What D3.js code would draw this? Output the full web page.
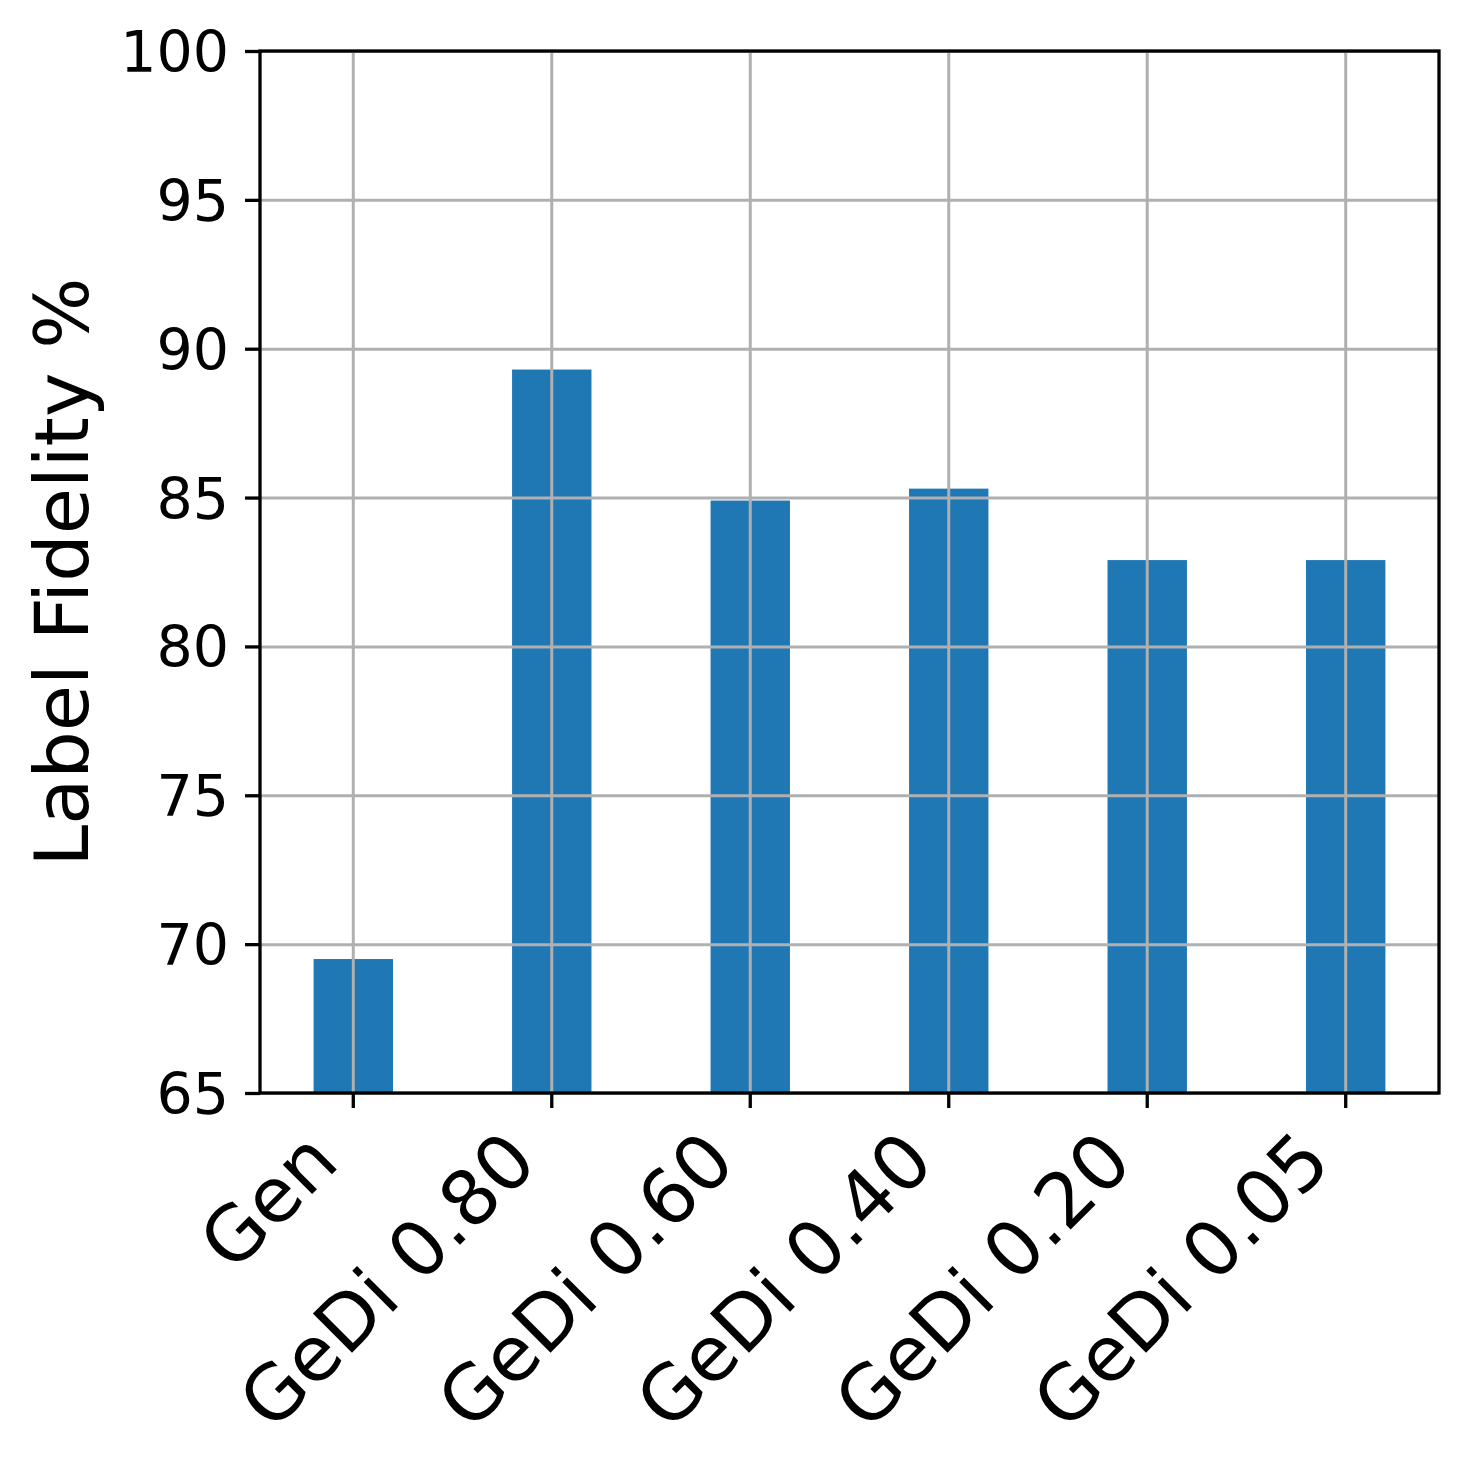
<!DOCTYPE html>
<html>
<head>
<meta charset="utf-8">
<script src="https://cdn.jsdelivr.net/npm/d3@7"></script>
<style>
  body { margin: 0; background: #fff; }
  svg text { font-family: "DejaVu Sans", sans-serif; fill: #000; }
</style>
</head>
<body>
<svg id="chart" width="1469" height="1468"></svg>
<script>
// chart data
const categories = ["Gen", "GeDi 0.80", "GeDi 0.60", "GeDi 0.40", "GeDi 0.20", "GeDi 0.05"];
const fidelity = [69.5, 89.3, 84.9, 85.3, 82.9, 82.9];
const yTicks = [65, 70, 75, 80, 85, 90, 95, 100];

function drawChart() {
  const margin = { top: 51, right: 30, bottom: 375, left: 260 };
  const width = 1439 - margin.left;
  const height = 1093 - margin.top;

  const svg = d3.select("svg#chart")
    .append("g")
    .attr("transform", "translate(" + margin.left + "," + margin.top + ")");

  // bars take 0.4 of each slot, matplotlib-like margins at both ends
  const x = d3.scaleBand()
    .domain(categories)
    .range([0, width])
    .paddingInner(0.6)
    .paddingOuter(0.27);

  const y = d3.scaleLinear()
    .domain([65, 100])
    .range([height, 0]);

  // bars first, grid drawn over them
  svg.selectAll(".bar")
    .data(fidelity)
    .enter().append("rect")
    .attr("class", "bar")
    .attr("x", (d, i) => x(categories[i]))
    .attr("y", d => y(d))
    .attr("width", x.bandwidth())
    .attr("height", d => height - y(d))
    .attr("fill", "#1f77b4");

  // grid lines
  const gridY = svg.append("g")
    .call(d3.axisLeft(y).tickValues(yTicks).tickSize(-width).tickFormat(""));
  gridY.select(".domain").remove();
  gridY.selectAll("line").attr("stroke", "#b0b0b0").attr("stroke-width", 3);

  const gridX = svg.append("g")
    .attr("transform", "translate(0," + height + ")")
    .call(d3.axisBottom(x).tickSize(-height).tickFormat(""));
  gridX.select(".domain").remove();
  gridX.selectAll("line").attr("stroke", "#b0b0b0").attr("stroke-width", 3);

  // frame
  svg.append("rect")
    .attr("width", width)
    .attr("height", height)
    .attr("fill", "none")
    .attr("stroke", "#000")
    .attr("stroke-width", 3.3);

  // y axis
  const yAxis = svg.append("g")
    .call(d3.axisLeft(y).tickValues(yTicks).tickSize(15).tickPadding(16));
  yAxis.select(".domain").remove();
  yAxis.selectAll("line").attr("stroke", "#000").attr("stroke-width", 3.3);
  yAxis.selectAll("text")
    .attr("font-size", 57)
    .attr("font-family", "DejaVu Sans")
    .attr("dy", "0.36em");

  // x axis, labels rotated 45 degrees and right aligned
  const xAxis = svg.append("g")
    .attr("transform", "translate(0," + height + ")")
    .call(d3.axisBottom(x).tickSize(15));
  xAxis.select(".domain").remove();
  xAxis.selectAll("line").attr("stroke", "#000").attr("stroke-width", 3.3);
  xAxis.selectAll("text")
    .attr("font-size", 76)
    .attr("font-family", "DejaVu Sans")
    .attr("text-anchor", "end")
    .attr("y", 0)
    .attr("dy", 0)
    .attr("transform", "translate(-12,72) rotate(-45)");

  // y axis title
  svg.append("text")
    .attr("transform", "rotate(-90)")
    .attr("x", -height / 2)
    .attr("y", 88 - margin.left)
    .attr("font-size", 75)
    .style("text-anchor", "middle")
    .text("Label Fidelity %");
}

drawChart();
</script>
</body>
</html>
